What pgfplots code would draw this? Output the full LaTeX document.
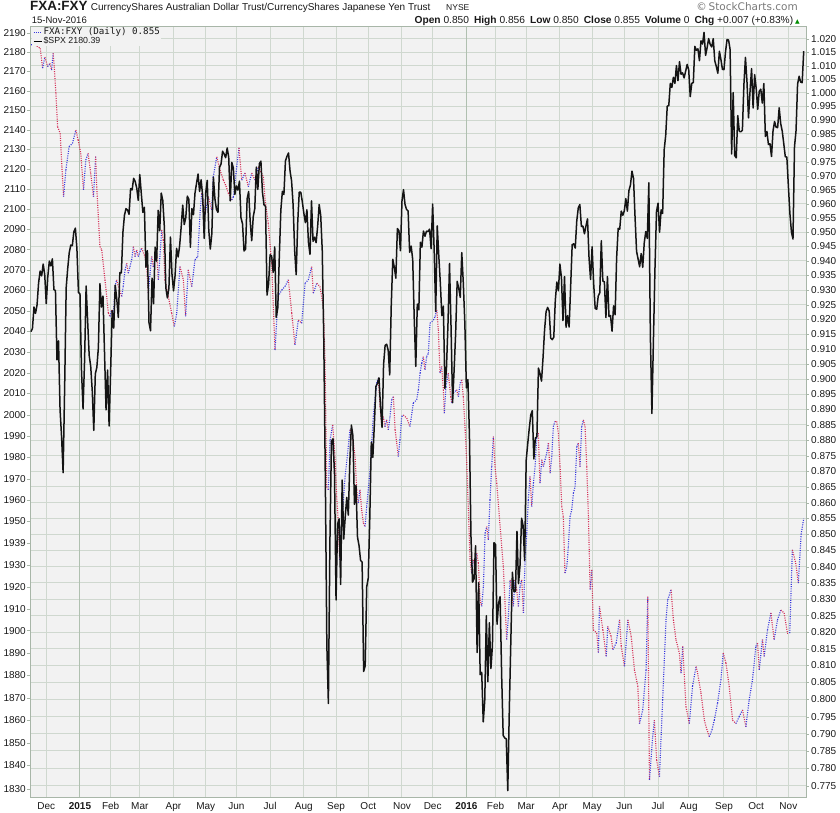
\documentclass[border=0pt]{standalone}
\usepackage{pgfplots}
\pgfplotsset{compat=1.18}
\usepackage{pgfplotstable}
\usepackage{fontspec}
\setmainfont{Liberation Sans}
\newfontfamily\dejavu{DejaVu Sans}
\newfontfamily\dejavumono{DejaVu Sans Mono}
\definecolor{plotbg}{RGB}{242,242,242}
\definecolor{gridc}{RGB}{207,216,207}
\definecolor{yeargrid}{RGB}{176,192,176}
\definecolor{axc}{RGB}{168,182,168}
\definecolor{upblue}{RGB}{55,55,222}
\definecolor{downred}{RGB}{212,45,85}
\definecolor{txt}{RGB}{25,25,25}

\pgfplotstableread[row sep=\\]{
x v\\
0 1.0178\\ 2 1.0181\\ 3.9 1.0174\\ 6.1 1.0165\\ 7.6 1.0091\\ 9.1 1.0132\\ 10.9 1.0097\\ 12.4 1.0109\\ 13.5 1.0084\\ 14.5 1.0146\\
15.2 1.0097\\ 16.3 0.9998\\ 17.4 0.9876\\ 19.1 0.9852\\ 20.2 0.9732\\ 21.3 0.9625\\ 22.8 0.9720\\ 24.9 0.9804\\ 27.1 0.9816\\ 29.3 0.9864\\
30.8 0.9828\\ 32.5 0.9780\\ 34.3 0.9649\\ 35.8 0.9756\\ 37.3 0.9780\\ 39 0.9708\\ 40.8 0.9625\\ 42.2 0.9768\\ 42.9 0.9661\\ 45.0 0.9450\\
46.2 0.9438\\ 48.3 0.9335\\ 50.5 0.9222\\ 51.6 0.9210\\ 52.7 0.9232\\ 53.7 0.9188\\ 54.8 0.9312\\ 55.9 0.9335\\ 57.0 0.9312\\ 59.2 0.9278\\
60.2 0.9312\\ 61.4 0.9369\\ 62.5 0.9392\\ 63.5 0.9358\\ 64.6 0.9380\\ 65.7 0.9404\\ 66.8 0.9450\\ 67.9 0.9415\\ 69.0 0.9438\\ 70.0 0.9415\\
71.1 0.9432\\ 72.2 0.9444\\ 74.4 0.9415\\ 75.5 0.9380\\ 76.6 0.9289\\ 77.7 0.9358\\ 78.8 0.9415\\ 79.8 0.9380\\ 80.9 0.9404\\ 82.0 0.9427\\
83.1 0.9335\\ 85.3 0.9508\\ 86.3 0.9473\\ 87.4 0.9335\\ 89.6 0.9278\\ 91.8 0.9221\\ 93.5 0.9176\\ 95.1 0.9221\\ 97.2 0.9380\\ 99.4 0.9335\\
100.9 0.9210\\ 102.6 0.9369\\ 104.9 0.9312\\ 107.0 0.9404\\ 108.8 0.9415\\ 110.3 0.9567\\ 111.4 0.9638\\ 113.5 0.9561\\ 115.7 0.9625\\ 117.9 0.9578\\
118.9 0.9695\\ 121.2 0.9767\\ 123.3 0.9720\\ 125.5 0.9684\\ 127.2 0.9663\\ 128.7 0.9638\\ 131.0 0.9614\\ 132.0 0.9624\\ 134.2 0.9731\\ 135.7 0.9799\\
137.5 0.9684\\ 139.6 0.9709\\ 141.8 0.9660\\ 144.0 0.9709\\ 146.1 0.9684\\ 148.3 0.9731\\ 151.6 0.9695\\ 152.7 0.9614\\ 154.8 0.9531\\ 157.0 0.9392\\
158.1 0.9243\\ 159.2 0.9097\\ 160.3 0.9198\\ 161.3 0.9278\\ 163.6 0.9300\\ 165.7 0.9312\\ 167.9 0.9335\\ 170.1 0.9221\\ 172.2 0.9114\\ 174.4 0.9198\\
176.6 0.9187\\ 178.8 0.9323\\ 180.9 0.9335\\ 183.1 0.9380\\ 184.2 0.9289\\ 186.4 0.9323\\ 188.5 0.9312\\ 190.7 0.9243\\ 191.8 0.9064\\ 192.9 0.8651\\
194.0 0.8641\\ 195.1 0.8801\\ 196.8 0.8850\\ 198.3 0.8747\\ 199.4 0.8620\\ 200.5 0.8536\\ 201.3 0.8421\\ 202.7 0.8536\\ 204.9 0.8683\\ 207.0 0.8779\\
208.1 0.8834\\ 209.2 0.8823\\ 210.3 0.8791\\ 211.4 0.8747\\ 212.5 0.8641\\ 213.5 0.8599\\ 214.6 0.8641\\ 215.7 0.8577\\ 216.8 0.8536\\ 217.9 0.8525\\
219.0 0.8588\\ 221.2 0.8705\\ 223.3 0.8877\\ 225.5 0.8987\\ 226.6 0.9003\\ 227.7 0.8910\\ 228.8 0.8855\\ 229.8 0.8877\\ 230.9 0.8844\\ 232.0 0.8866\\
233.1 0.8834\\ 234.2 0.8877\\ 235.3 0.8932\\ 236.4 0.8942\\ 237.5 0.8834\\ 238.6 0.8791\\ 239.6 0.8747\\ 240.7 0.8801\\ 241.8 0.8877\\ 242.9 0.8882\\
245.1 0.8872\\ 247.2 0.8844\\ 249.4 0.8921\\ 251.6 0.8932\\ 252.7 0.8965\\ 253.8 0.9020\\ 254.9 0.9053\\ 255.9 0.9075\\ 257.0 0.9031\\ 258.1 0.9075\\
259.2 0.9086\\ 260.3 0.9187\\ 262.5 0.9198\\ 263.6 0.9210\\ 264.7 0.9232\\ 265.7 0.9165\\ 266.8 0.9020\\ 267.9 0.9042\\ 269.0 0.8965\\ 269.6 0.8888\\
270.7 0.8975\\ 272.2 0.9020\\ 273.8 0.8942\\ 274.5 0.8921\\ 275.5 0.8954\\ 277.7 0.8965\\ 278.8 0.8942\\ 279.9 0.8987\\ 281.0 0.8998\\ 282.0 0.8940\\
283.2 0.8834\\ 284.2 0.8730\\ 285.3 0.8577\\ 286.4 0.8421\\ 287.5 0.8380\\ 288.5 0.8421\\ 289.6 0.8400\\ 290.8 0.8442\\ 291.8 0.8411\\ 292.9 0.8298\\
294.0 0.8278\\ 295.1 0.8339\\ 296.2 0.8504\\ 297.3 0.8525\\ 298.3 0.8483\\ 299.4 0.8609\\ 300.5 0.8715\\ 301.6 0.8812\\ 302.7 0.8715\\ 303.8 0.8662\\
306.0 0.8525\\ 308.1 0.8400\\ 310.3 0.8177\\ 311.4 0.8247\\ 312.5 0.8359\\ 313.6 0.8319\\ 314.6 0.8278\\ 315.7 0.8359\\ 316.8 0.8329\\ 317.9 0.8278\\
319.0 0.8339\\ 320.1 0.8359\\ 321.2 0.8258\\ 322.3 0.8421\\ 323.4 0.8504\\ 324.4 0.8609\\ 325.5 0.8683\\ 326.6 0.8588\\ 327.7 0.8662\\ 328.8 0.8715\\
329.9 0.8812\\ 330.9 0.8823\\ 332.0 0.8662\\ 333.2 0.8737\\ 334.2 0.8715\\ 335.3 0.8737\\ 336.4 0.8758\\ 337.5 0.8791\\ 338.6 0.8694\\ 339.7 0.8747\\
340.7 0.8844\\ 341.8 0.8861\\ 342.9 0.8861\\ 344.0 0.8823\\ 345.1 0.8715\\ 346.2 0.8588\\ 347.2 0.8556\\ 348.3 0.8380\\ 349.5 0.8400\\ 350.5 0.8462\\
351.6 0.8556\\ 352.7 0.8577\\ 353.8 0.8630\\ 354.9 0.8651\\ 356.0 0.8779\\ 357.0 0.8791\\ 358.1 0.8715\\ 359.2 0.8844\\ 360.3 0.8866\\ 361.4 0.8844\\
362.5 0.8715\\ 363.6 0.8556\\ 364.7 0.8329\\ 365.8 0.8390\\ 366.8 0.8207\\ 369.0 0.8197\\ 370.1 0.8138\\ 370.8 0.8278\\ 373 0.8207\\ 375.2 0.8127\\
376.2 0.8217\\ 378.4 0.8187\\ 379.5 0.8147\\ 381.7 0.8167\\ 383.9 0.8237\\ 385 0.8157\\ 387.1 0.8097\\ 389.3 0.8237\\ 391.5 0.8187\\ 393.6 0.8087\\
395.8 0.8038\\ 396.9 0.7930\\ 399 0.7969\\ 401.2 0.8087\\ 402.3 0.8308\\ 403.4 0.7766\\ 405.5 0.7891\\ 406.6 0.7940\\ 408.1 0.7824\\ 409.9 0.7776\\
412 0.7998\\ 414.2 0.8237\\ 415.3 0.8298\\ 417.5 0.8329\\ 419 0.8237\\ 420.7 0.8177\\ 422.9 0.8137\\ 424 0.8077\\ 425.1 0.8157\\ 427.2 0.7979\\
429.4 0.7930\\ 431.5 0.8038\\ 433.8 0.8097\\ 434.8 0.8077\\ 437 0.8018\\ 439.2 0.7940\\ 440.3 0.7920\\ 442.4 0.7891\\ 444.2 0.7911\\ 445.7 0.7940\\
447.8 0.7989\\ 450 0.8057\\ 451.5 0.8137\\ 453.3 0.8107\\ 455.4 0.8038\\ 457.6 0.7940\\ 459.8 0.7930\\ 461.9 0.7949\\ 464.1 0.7969\\ 466.3 0.7920\\
468.4 0.7998\\ 470.6 0.8057\\ 472.8 0.8157\\ 473.9 0.8167\\ 475 0.8087\\ 477.1 0.8177\\ 478.2 0.8127\\ 480.4 0.8207\\ 482.6 0.8258\\ 484.7 0.8177\\
486.9 0.8237\\ 489.1 0.8267\\ 491.2 0.8258\\ 493.4 0.8197\\ 494.9 0.8197\\ 496.6 0.8452\\ 498.8 0.8411\\ 500.5 0.8349\\ 502.3 0.8500\\ 504 0.8550\\
}\fxa
\pgfplotstablecreatecol[create col/expr={(\nextrow{v}-\thisrow{v})>0}]{up}{\fxa}

\pgfplotstableread[row sep=\\]{
c\\
2039.8\\ 2041.3\\ 2051.8\\ 2048.7\\ 2052.8\\ 2063.5\\ 2069.4\\ 2067.0\\ 2072.8\\ 2067.6\\
2053.4\\ 2066.6\\ 2074.3\\ 2071.9\\ 2075.4\\ 2060.3\\ 2059.8\\ 2026.1\\ 2035.3\\ 2002.3\\ 1989.6\\ 1972.7\\ 2012.9\\ 2061.2\\ 2070.7\\ 2078.5\\ 2082.2\\ 2081.9\\ 2088.8\\ 2090.6\\ 2080.4\\ 2058.9\\
2058.2\\ 2020.6\\ 2002.6\\ 2025.9\\ 2062.1\\ 2044.8\\ 2028.3\\ 2023.0\\ 2011.3\\ 1992.7\\ 2019.4\\ 2022.6\\ 2032.1\\ 2063.2\\ 2051.8\\ 2057.1\\ 2029.6\\ 2002.2\\ 2021.3\\ 1995.0\\
2020.9\\ 2050.0\\ 2041.5\\ 2062.5\\ 2055.5\\ 2046.7\\ 2068.6\\ 2068.5\\ 2088.5\\ 2097.0\\ 2100.3\\ 2099.7\\ 2097.5\\ 2110.3\\ 2109.7\\ 2115.5\\ 2113.9\\ 2110.7\\ 2104.5\\
2117.4\\ 2107.8\\ 2098.5\\ 2101.0\\ 2071.3\\ 2079.4\\ 2044.2\\ 2040.2\\ 2065.9\\ 2053.4\\ 2081.2\\ 2074.3\\ 2099.5\\ 2089.3\\ 2108.1\\ 2104.4\\ 2091.5\\ 2061.1\\ 2056.2\\ 2061.0\\ 2086.2\\ 2067.9\\
2059.7\\ 2067.0\\ 2080.6\\ 2076.3\\ 2081.9\\ 2091.2\\ 2102.1\\ 2092.4\\ 2095.8\\ 2106.6\\ 2105.0\\ 2081.2\\ 2100.4\\ 2097.3\\ 2108.0\\ 2112.9\\ 2117.7\\ 2108.9\\ 2114.8\\ 2106.9\\ 2085.5\\
2108.3\\ 2114.5\\ 2089.5\\ 2080.2\\ 2088.0\\ 2116.1\\ 2105.3\\ 2099.9\\ 2098.5\\ 2121.1\\ 2122.7\\ 2129.2\\ 2127.8\\ 2125.9\\ 2130.8\\ 2126.1\\ 2104.2\\ 2123.5\\ 2120.8\\ 2107.4\\
2111.7\\ 2109.6\\ 2114.1\\ 2095.8\\ 2092.8\\ 2079.3\\ 2080.2\\ 2105.2\\ 2108.9\\ 2094.1\\ 2084.4\\ 2096.3\\ 2100.4\\ 2121.2\\ 2110.0\\ 2122.9\\ 2124.2\\ 2108.6\\ 2102.3\\ 2101.5\\ 2057.6\\ 2063.1\\
2077.4\\ 2076.8\\ 2068.8\\ 2081.3\\ 2046.7\\ 2051.3\\ 2076.6\\ 2099.6\\ 2109.0\\ 2107.4\\ 2124.3\\ 2126.6\\ 2128.3\\ 2119.2\\ 2114.2\\ 2102.2\\ 2079.7\\ 2067.6\\ 2093.3\\ 2108.6\\ 2108.6\\ 2103.8\\
2098.0\\ 2093.3\\ 2099.8\\ 2083.6\\ 2077.6\\ 2104.2\\ 2084.1\\ 2086.1\\ 2083.4\\ 2091.5\\ 2102.4\\ 2096.9\\ 2079.6\\ 2035.7\\ 1970.9\\ 1893.2\\ 1867.6\\ 1940.5\\ 1987.7\\ 1988.9\\ 1972.2\\
1913.9\\ 1948.9\\ 1951.1\\ 1921.2\\ 1969.4\\ 1942.0\\ 1952.3\\ 1961.1\\ 1953.0\\ 1978.1\\ 1995.3\\ 1990.2\\ 1958.0\\ 1967.0\\ 1942.7\\ 1938.8\\ 1932.2\\ 1931.3\\ 1881.8\\ 1884.1\\ 1920.0\\
1923.8\\ 1951.4\\ 1987.1\\ 1979.9\\ 1995.8\\ 2013.4\\ 2014.9\\ 2017.5\\ 2003.7\\ 1994.2\\ 2023.9\\ 2033.1\\ 2033.7\\ 2030.8\\ 2018.9\\ 2052.5\\ 2075.2\\ 2071.2\\ 2065.9\\ 2090.4\\ 2089.4\\ 2079.4\\
2104.1\\ 2109.8\\ 2102.3\\ 2099.9\\ 2099.2\\ 2078.6\\ 2081.7\\ 2075.0\\ 2046.0\\ 2023.0\\ 2053.2\\ 2050.4\\ 2083.6\\ 2081.2\\ 2089.2\\ 2086.6\\ 2089.1\\ 2088.9\\ 2090.1\\ 2080.4\\
2102.6\\ 2079.5\\ 2049.6\\ 2091.7\\ 2077.1\\ 2063.6\\ 2047.6\\ 2052.2\\ 2012.4\\ 2021.9\\ 2043.4\\ 2073.1\\ 2041.9\\ 2005.6\\ 2021.2\\ 2039.0\\ 2064.3\\ 2061.0\\ 2056.5\\ 2078.4\\ 2063.4\\ 2043.9\\
2012.7\\ 2016.7\\ 1990.3\\ 1943.1\\ 1922.0\\ 1923.7\\ 1938.7\\ 1890.3\\ 1921.8\\ 1880.3\\ 1881.3\\ 1859.3\\ 1869.0\\ 1906.9\\ 1877.1\\ 1903.6\\ 1883.0\\ 1893.4\\ 1940.2\\
1939.4\\ 1903.0\\ 1912.5\\ 1915.5\\ 1880.1\\ 1853.4\\ 1852.2\\ 1851.9\\ 1829.1\\ 1864.8\\ 1895.6\\ 1926.8\\ 1917.8\\ 1917.8\\ 1945.5\\ 1921.3\\ 1929.8\\ 1951.7\\ 1948.1\\ 1932.2\\
1978.4\\ 1986.5\\ 1993.4\\ 2000.0\\ 2001.8\\ 1979.3\\ 1989.3\\ 1989.6\\ 2022.2\\ 2019.6\\ 2015.9\\ 2027.2\\ 2040.6\\ 2049.6\\ 2051.6\\ 2049.8\\ 2036.7\\ 2035.9\\ 2037.1\\ 2055.0\\ 2064.0\\ 2059.7\\
2072.8\\ 2066.1\\ 2045.2\\ 2066.7\\ 2041.9\\ 2047.6\\ 2042.0\\ 2061.7\\ 2082.4\\ 2082.8\\ 2080.7\\ 2094.3\\ 2100.8\\ 2102.4\\ 2091.5\\ 2091.6\\ 2087.8\\ 2091.7\\ 2095.2\\ 2075.8\\ 2065.3\\
2081.4\\ 2063.4\\ 2051.1\\ 2050.6\\ 2057.1\\ 2058.7\\ 2084.4\\ 2064.5\\ 2064.1\\ 2046.6\\ 2066.7\\ 2047.2\\ 2047.6\\ 2040.0\\ 2052.3\\ 2048.0\\ 2076.1\\ 2090.5\\ 2090.1\\ 2099.1\\ 2097.0\\
2099.3\\ 2105.3\\ 2099.1\\ 2109.4\\ 2112.1\\ 2119.1\\ 2115.5\\ 2096.1\\ 2079.1\\ 2075.3\\ 2071.5\\ 2078.0\\ 2071.2\\ 2083.3\\ 2088.9\\ 2085.5\\ 2113.3\\ 2037.4\\ 2000.5\\ 2036.1\\ 2070.8\\ 2098.9\\
2103.0\\ 2088.6\\ 2099.7\\ 2097.9\\ 2129.9\\ 2137.2\\ 2152.1\\ 2152.4\\ 2163.8\\ 2161.7\\ 2166.9\\ 2163.8\\ 2173.0\\ 2165.2\\ 2175.0\\ 2168.5\\ 2169.2\\ 2166.6\\ 2170.1\\ 2173.6\\
2170.8\\ 2157.0\\ 2163.8\\ 2164.3\\ 2182.9\\ 2180.9\\ 2181.7\\ 2175.5\\ 2185.8\\ 2184.1\\ 2190.2\\ 2178.2\\ 2182.2\\ 2187.0\\ 2183.9\\ 2182.6\\ 2186.9\\ 2175.4\\ 2172.5\\ 2169.0\\ 2180.4\\ 2176.1\\ 2171.0\\
2170.9\\ 2180.0\\ 2186.5\\ 2186.2\\ 2181.3\\ 2127.8\\ 2159.0\\ 2127.0\\ 2125.8\\ 2147.3\\ 2139.2\\ 2139.1\\ 2139.8\\ 2163.1\\ 2177.2\\ 2164.7\\ 2146.1\\ 2159.9\\ 2171.4\\ 2151.1\\ 2168.3\\
2161.2\\ 2150.5\\ 2159.7\\ 2160.8\\ 2153.7\\ 2163.7\\ 2136.7\\ 2139.2\\ 2132.6\\ 2133.0\\ 2126.5\\ 2139.6\\ 2144.3\\ 2141.3\\ 2141.2\\ 2151.3\\ 2143.2\\ 2139.4\\ 2133.0\\ 2126.4\\ 2126.2\\
2111.7\\ 2097.9\\ 2088.7\\ 2085.2\\ 2131.5\\ 2139.6\\ 2163.3\\ 2167.5\\ 2164.5\\ 2164.2\\ 2180.4\\
}\spx

\begin{document}
\begin{tikzpicture}[x=1pt,y=1pt]
\useasboundingbox (0,0) rectangle (840,812);

% right axis: FXA:FXY
\begin{axis}[
  ymode=log,
  at={(30pt,15pt)}, anchor=south west,
  scale only axis, width=776pt, height=771pt,
  xmin=-0.6, xmax=505.5,
  ymin=0.77181, ymax=1.02489,
  tick label style={font=\fontsize{10}{12}\selectfont, text=txt},
  tick align=outside, major tick length=3pt,
  axis line style={axc, line width=0.8pt},
  ytick pos=right, yticklabel pos=right,
  ytick={0.775,0.780,0.785,0.790,0.795,0.800,0.805,0.810,0.815,0.820,0.825,0.830,0.835,0.840,0.845,0.850,0.855,0.860,0.865,0.870,0.875,0.880,0.885,0.890,0.895,0.900,0.905,0.910,0.915,0.920,0.925,0.930,0.935,0.940,0.945,0.950,0.955,0.960,0.965,0.970,0.975,0.980,0.985,0.990,0.995,1.000,1.005,1.010,1.015,1.020},
  yticklabel={\pgfmathparse{exp(\tick)}\pgfmathprintnumber[fixed,fixed zerofill,precision=3,assume math mode=true]{\pgfmathresult}},
  yticklabel style={anchor=west, inner sep=1pt, xshift=1pt},
  ytick style={axc},
  xtick pos=bottom,
  xtick={10,32,52,71,93,114,134,156,178,199,220,242,262,284,303,323,345,366,387,409,429,452,473,494},
  xticklabels={Dec,\textbf{2015},Feb,Mar,Apr,May,Jun,Jul,Aug,Sep,Oct,Nov,Dec,\textbf{2016},Feb,Mar,Apr,May,Jun,Jul,Aug,Sep,Oct,Nov},
  xtick style={draw=none},
  xticklabel style={inner sep=1pt, yshift=-1pt},
  xmajorgrids, ymajorgrids,
  grid style={gridc, line width=1pt},
  extra x ticks={32,284}, extra x tick labels={},
  extra x tick style={grid style={yeargrid, line width=1pt}},
  axis background/.style={fill=plotbg},
  colormap={updown}{rgb255(0cm)=(212,45,85); rgb255(1cm)=(55,55,222)},
  point meta min=0, point meta max=1,
]
\addplot[mesh, shader=flat corner, point meta=\thisrow{up}, line width=1.15pt, dash pattern=on 1pt off 1.3pt] table[x=x,y=v]{\fxa};
\end{axis}

% left axis: SPX (values in thousands internally to keep log coordinates small)
\begin{axis}[
  ymode=log,
  at={(30pt,15pt)}, anchor=south west,
  scale only axis, width=776pt, height=771pt,
  xmin=-0.6, xmax=505.5,
  ymin=1.8263, ymax=2.1935,
  tick label style={font=\fontsize{10}{12}\selectfont, text=txt},
  tick align=outside, major tick length=3pt,
  axis line style={axc, line width=0.8pt},
  axis y line*=left, hide x axis,
  ytick={1.83,1.84,1.85,1.86,1.87,1.88,1.89,1.90,1.91,1.92,1.93,1.94,1.95,1.96,1.97,1.98,1.99,2.00,2.01,2.02,2.03,2.04,2.05,2.06,2.07,2.08,2.09,2.10,2.11,2.12,2.13,2.14,2.15,2.16,2.17,2.18,2.19},
  yticklabel={\pgfmathparse{1000*exp(\tick)}\pgfmathprintnumber[fixed,precision=0,1000 sep={},assume math mode=true]{\pgfmathresult}},
  yticklabel style={anchor=east, inner sep=1pt},
  ytick style={axc},
  legend style={at={(0.002,0.998)}, anchor=north west, draw=none, fill=plotbg,
    inner xsep=1pt, inner ysep=0.5pt, row sep=0pt,
    nodes={inner sep=0.4pt, text height=6.3pt, text depth=1.6pt, text=txt}},
  legend cell align=left,
]
\addlegendimage{legend image code/.code={\draw[upblue, line width=1.3pt, dash pattern=on 1pt off 1.3pt] (0pt,0pt) -- (9pt,0pt);}}
\addlegendentry{{\dejavumono\fontsize{9.2}{10}\selectfont FXA:FXY (Daily) 0.855}}
\addlegendimage{legend image code/.code={\draw[black, line width=1.5pt] (0pt,0pt) -- (8pt,0pt);}}
\addlegendentry{{\fontsize{8.8}{10}\selectfont \$SPX 2180.39}}
\addplot[forget plot, color={rgb,255:red,20;green,20;blue,20}, line width=1.5pt, line join=round] table[x expr=\coordindex, y=c, y expr=\thisrow{c}/1000]{\spx};
\end{axis}

% header
\node[anchor=base west, inner sep=0, font=\fontsize{13.4}{15}\selectfont\bfseries, text=txt] at (30,801.5) {FXA:FXY};
\node[anchor=base west, inner sep=0, font=\fontsize{10}{12}\selectfont, text=txt] at (90.7,801.5) {CurrencyShares Australian Dollar Trust/CurrencyShares Japanese Yen Trust};
\node[anchor=base west, inner sep=0, font=\fontsize{8.5}{10}\selectfont, text=txt] at (446,801.5) {NYSE};
\node[anchor=base east, inner sep=0, font=\dejavu\fontsize{10.5}{12}\selectfont, text={rgb,255:red,120;green,120;blue,120}] at (798,801.5) {\textcopyright\,StockCharts.com};
\node[anchor=base west, inner sep=0, font=\fontsize{9.5}{12}\selectfont, text=txt] at (31.7,788.5) {15-Nov-2016};
\node[anchor=base east, inner sep=0, font=\fontsize{10.2}{12}\selectfont, text=txt] at (800,788.5) {\textbf{Open} 0.850\hspace{5pt}\textbf{High} 0.856\hspace{5pt}\textbf{Low} 0.850\hspace{5pt}\textbf{Close} 0.855\hspace{5pt}\textbf{Volume} 0\hspace{5pt}\textbf{Chg} +0.007 (+0.83\%)\hspace{2pt}{\dejavu\fontsize{6}{7}\selectfont\textcolor{green!55!black}{▲}}};
\end{tikzpicture}
\end{document}
